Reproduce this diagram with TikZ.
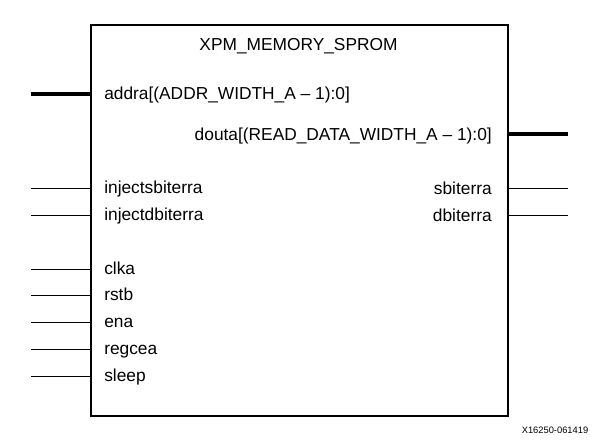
\documentclass[tikz,border=0pt]{standalone}
\usepackage{fontspec}
\setmainfont{Liberation Sans}
\usetikzlibrary{positioning}
\tikzset{
    blockBox/.style={rectangle, draw, line width=1.5pt, inner sep=0pt, outer sep=0pt, minimum width=312.75pt, minimum height=293.6pt},
    pinText/.style={inner sep=0pt, font=\fontsize{13}{15}\selectfont},
    noteText/.style={inner sep=0pt, font=\fontsize{7}{8}\selectfont},
    busWire/.style={line width=3pt},
    bitWire/.style={line width=0.75pt},
}
\newcommand{\pinIn}[4][bitWire]{
    \coordinate (#2-end) at (31,#3);
    \node[pinText, anchor=base west] (#2) at (104,#3+5) {#4};
    \draw[#1] (#2-end) -- (box.west |- #2-end);
}
\newcommand{\pinOut}[4][bitWire]{
    \coordinate (#2-end) at (568,#3);
    \node[pinText, anchor=base east] (#2) at (492,#3+6) {#4};
    \draw[#1] (box.east |- #2-end) -- (#2-end);
}
\begin{document}
\begin{tikzpicture}[x=0.75pt, y=-0.75pt]
        \useasboundingbox (0,0) rectangle (609,447);

        \node[blockBox, anchor=north west] (box) at (91,24.5) {};
        \node[pinText, anchor=base] (title) at (298.5,50.7) {XPM\_MEMORY\_SPROM};

        \pinIn[busWire]{addra}{94}{addra[(ADDR\_WIDTH\_A \textendash{} 1):0]}
        \pinIn{injectsbiterra}{188}{injectsbiterra}
        \pinIn{injectdbiterra}{215}{injectdbiterra}
        \pinIn{clka}{269}{clka}
        \pinIn{rstb}{295}{rstb}
        \pinIn{ena}{322}{ena}
        \pinIn{regcea}{349}{regcea}
        \pinIn{sleep}{376}{sleep}

        \pinOut[busWire]{douta}{134}{douta[(READ\_DATA\_WIDTH\_A \textendash{} 1):0]}
        \pinOut{sbiterra}{188}{sbiterra}
        \pinOut{dbiterra}{215}{dbiterra}

        \node[noteText, anchor=base] (note) at (555,433) {X16250-061419};

    \end{tikzpicture}
\end{document}
